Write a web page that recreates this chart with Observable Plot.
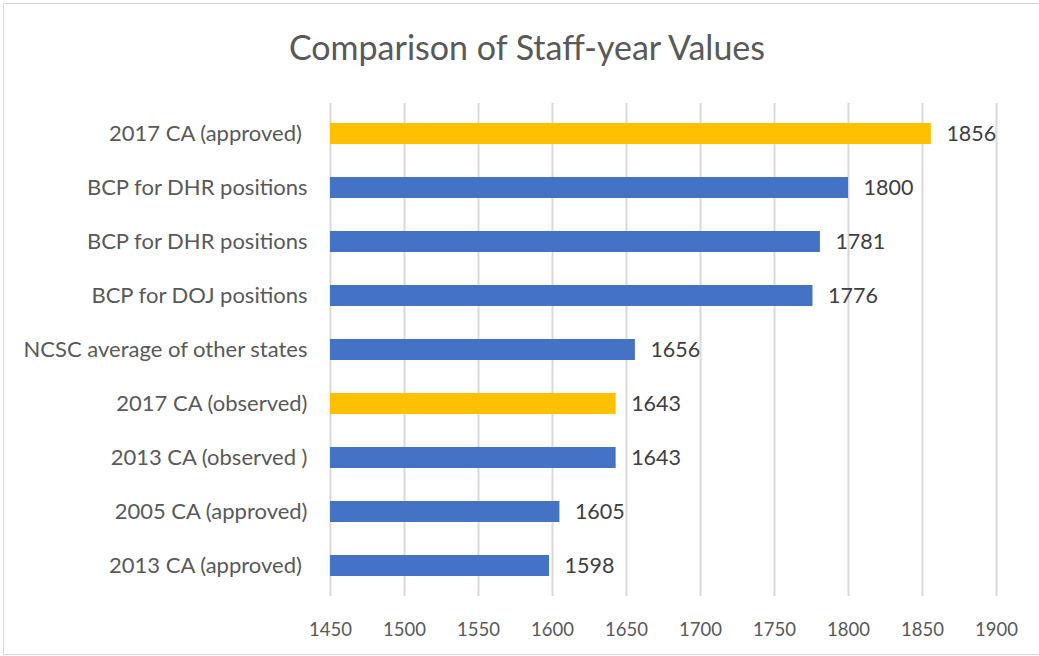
<!DOCTYPE html>
<html><head><meta charset="utf-8">
<script src="https://cdn.jsdelivr.net/npm/d3@7"></script>
<script src="https://cdn.jsdelivr.net/npm/@observablehq/plot@0.6"></script>
<style>
body{margin:0;background:#fff;}
#wrap{position:relative;width:1039px;height:656px;overflow:hidden;}
#frame{position:absolute;left:3px;top:3px;width:1036px;height:652px;border:1px solid #d9d9d9;box-sizing:border-box;border-right:none;}
#title{position:absolute;left:0;top:30px;width:1054px;line-height:34px;text-align:center;font-family:Lato,"Open Sans",sans-serif;font-size:34px;color:#595959;}
#chart{position:absolute;left:0;top:0;}
</style></head>
<body><div id="wrap"><div id="frame"></div><div id="chart"></div><div id="title">Comparison of Staff-year Values</div></div>
<script>
const categories = ["2017 CA (approved)\u00A0","BCP for DHR positions","BCP for DHR positions\u200B","BCP for DOJ positions","NCSC average of other states","2017 CA (observed)","2013 CA (observed )","2005 CA (approved)","2013 CA (approved)\u00A0"];
const values = [1856,1800,1781,1776,1656,1643,1643,1605,1598];
const highlight = [true,false,false,false,false,true,false,false,false];
const xTicks = [1450,1500,1550,1600,1650,1700,1750,1800,1850,1900];
const data = categories.map((c,i)=>({cat:c,value:values[i],hl:highlight[i]}));
const font = "Lato, 'Open Sans', sans-serif";
const chart = Plot.plot({
  width:1039, height:656,
  marginTop:103, marginBottom:60, marginLeft:330, marginRight:43,
  style:{fontFamily:font, fontSize:"22px", color:"#595959", background:"transparent"},
  x:{domain:[1450,1900], ticks:xTicks, tickFormat:"d", tickSize:0, tickPadding:26, label:null, grid:false},
  y:{domain:categories, paddingInner:0.62, paddingOuter:0.31, tickSize:0, tickPadding:23, label:null},
  marks:[
    Plot.ruleX(xTicks,{stroke:"#d9d9d9", strokeWidth:2}),
    Plot.barX(data,{x1:1450, x2:"value", y:"cat", fill:d=>d.hl?"#FFC000":"#4472C4"}),
    Plot.text(data,{x:"value", y:"cat", text:d=>String(d.value), textAnchor:"start", dx:15, fill:"#404040", fontSize:21.5})
  ]
});
chart.querySelectorAll("[aria-label='x-axis tick label']").forEach(g=>g.setAttribute("font-size","18.5"));
document.getElementById("chart").appendChild(chart);
</script></body></html>
